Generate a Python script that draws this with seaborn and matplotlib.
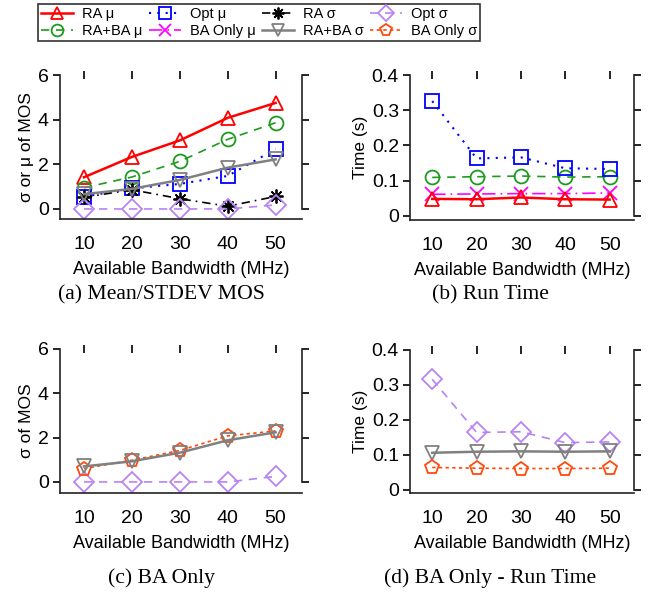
import numpy as np
import pandas as pd
import matplotlib
matplotlib.use('Agg')
import matplotlib.pyplot as plt
import seaborn as sns

BANDWIDTH = [10, 20, 30, 40, 50]

# (a) mean / stdev MOS
ra_mu = [1.42, 2.33, 3.07, 4.08, 4.75]
raba_mu = [0.95, 1.43, 2.13, 3.12, 3.86]
opt_mu = [0.55, 0.92, 1.12, 1.48, 2.68]
ra_sigma = [0.52, 0.86, 0.46, 0.12, 0.56]
opt_sigma = [0.0, 0.0, 0.0, 0.0, 0.18]
raba_sigma = [0.66, 0.9, 1.3, 1.85, 2.22]

# (b) run time
ra_mu_time = [0.048, 0.047, 0.052, 0.047, 0.046]
raba_mu_time = [0.109, 0.111, 0.113, 0.110, 0.111]
opt_mu_time = [0.326, 0.163, 0.166, 0.135, 0.133]
baonly_mu_time = [0.061, 0.062, 0.063, 0.063, 0.065]

# (c) BA only stdev
baonly_sigma = [0.6, 0.98, 1.42, 2.08, 2.3]
raba_sigma_c = [0.7, 0.93, 1.32, 1.88, 2.24]
opt_sigma_c = [0.0, 0.0, 0.0, 0.0, 0.25]

# (d) BA only run time
opt_sigma_time = [0.316, 0.164, 0.166, 0.135, 0.137]
raba_sigma_time = [0.106, 0.109, 0.110, 0.109, 0.110]
baonly_sigma_time = [0.064, 0.062, 0.061, 0.061, 0.062]

CAPTIONS = ['(a) Mean/STDEV MOS', '(b) Run Time', '(c) BA Only', '(d) BA Only - Run Time']

STYLES = {
    'RA μ': dict(color='#ff0000', marker='^', linestyle='-', lw=1.8),
    'RA+BA μ': dict(color='#1e9a1e', marker='o', linestyle=(0, (5, 4)), lw=1.2),
    'Opt μ': dict(color='#0000ff', marker='s', linestyle=(0, (1, 3)), lw=1.5),
    'BA Only μ': dict(color='#ff00ff', marker='x', linestyle=(0, (8, 3, 1, 3)), lw=1.2),
    'RA σ': dict(color='#000000', marker=(8, 2, 0), linestyle=(0, (5, 3, 1, 3)), lw=1.2),
    'RA+BA σ': dict(color='#808080', marker='v', linestyle='-', lw=1.8),
    'Opt σ': dict(color='#b883f5', marker='D', linestyle=(0, (5, 4)), lw=1.2),
    'BA Only σ': dict(color='#ff4a0a', marker='p', linestyle=(0, (2, 2)), lw=1.2),
}

plt.rcParams['font.family'] = ['Liberation Sans', 'DejaVu Sans']

fig = plt.figure(figsize=(6.55, 5.93), dpi=100)
pos = [
    [0.0916, 0.6307, 0.3694, 0.2428],
    [0.626, 0.629, 0.342, 0.2445],
    [0.0916, 0.1686, 0.3694, 0.2429],
    [0.626, 0.1686, 0.342, 0.2414],
]
axes = [fig.add_axes(p) for p in pos]

panels = [
    [('RA μ', ra_mu), ('RA+BA μ', raba_mu), ('Opt μ', opt_mu), ('RA σ', ra_sigma),
     ('Opt σ', opt_sigma), ('RA+BA σ', raba_sigma)],
    [('RA+BA μ', raba_mu_time), ('Opt μ', opt_mu_time), ('BA Only μ', baonly_mu_time),
     ('RA μ', ra_mu_time)],
    [('Opt σ', opt_sigma_c), ('BA Only σ', baonly_sigma), ('RA+BA σ', raba_sigma_c)],
    [('Opt σ', opt_sigma_time), ('RA+BA σ', raba_sigma_time), ('BA Only σ', baonly_sigma_time)],
]

handles = {}
for ax, series in zip(axes, panels):
    for name, vals in series:
        st = STYLES[name]
        df = pd.DataFrame({'bw': BANDWIDTH, 'v': vals})
        sns.lineplot(data=df, x='bw', y='v', ax=ax, color=st['color'], marker=st['marker'],
                     linestyle=st['linestyle'], linewidth=st['lw'], markersize=10,
                     markerfacecolor='none', markeredgecolor=st['color'], markeredgewidth=1.3,
                     legend=False)
        handles[name] = ax.lines[-1]

ylims = [(-0.45, 6), (-0.012, 0.4), (-0.5, 6), (-0.009, 0.4)]
yticks = [[0, 2, 4, 6], [0, 0.1, 0.2, 0.3, 0.4], [0, 2, 4, 6], [0, 0.1, 0.2, 0.3, 0.4]]
ytl = [['0', '2', '4', '6'], ['0', '0.1', '0.2', '0.3', '0.4'],
       ['0', '2', '4', '6'], ['0', '0.1', '0.2', '0.3', '0.4']]
ylabels = ['σ or μ of MOS', 'Time (s)', 'σ of MOS', 'Time (s)']
cap_x = [0.246, 0.748, 0.246, 0.748]
cap_y = [0.503, 0.503, 0.025, 0.025]

for i, ax in enumerate(axes):
    ax.set_xlim(5, 55.5)
    ax.set_ylim(*ylims[i])
    ax.set_xticks(BANDWIDTH)
    ax.set_xticklabels([str(b) for b in BANDWIDTH], fontsize=14)
    ax.set_yticks(yticks[i])
    ax.set_yticklabels(ytl[i], fontsize=14)
    ax.set_xlabel('Available Bandwidth (MHz)', fontsize=13, labelpad=6)
    ax.set_ylabel(ylabels[i], fontsize=12.5, labelpad=3)
    ax.spines['top'].set_visible(False)
    ax.spines['right'].set_bounds(0, yticks[i][-1])
    for s in ['left', 'bottom', 'right']:
        ax.spines[s].set_linewidth(1.2)
        ax.spines[s].set_color('#222222')
    ax.tick_params(axis='x', bottom=False, top=True, labeltop=False, direction='inout',
                   length=6, width=1.2, pad=9)
    ax.tick_params(axis='y', left=True, right=True, direction='out', length=5, width=1.2,
                   pad=3)
    ax.grid(False)
    fig.text(cap_x[i], cap_y[i], CAPTIONS[i], ha='center', va='center', fontsize=15.6,
             family=['Liberation Serif', 'DejaVu Serif'])

order = ['RA μ', 'RA+BA μ', 'Opt μ', 'BA Only μ', 'RA σ', 'RA+BA σ', 'Opt σ', 'BA Only σ']
leg = fig.legend([handles[k] for k in order], order, loc='upper center', ncol=4,
                 bbox_to_anchor=(0.3955, 0.993), fontsize=10.5, frameon=True, fancybox=False,
                 edgecolor='black', handlelength=2.2, handletextpad=0.6, columnspacing=0.45,
                 borderpad=0.2, labelspacing=0.2, markerscale=0.85, borderaxespad=0)
leg.get_frame().set_linewidth(1.2)

fig.savefig('out.png', dpi=100)
